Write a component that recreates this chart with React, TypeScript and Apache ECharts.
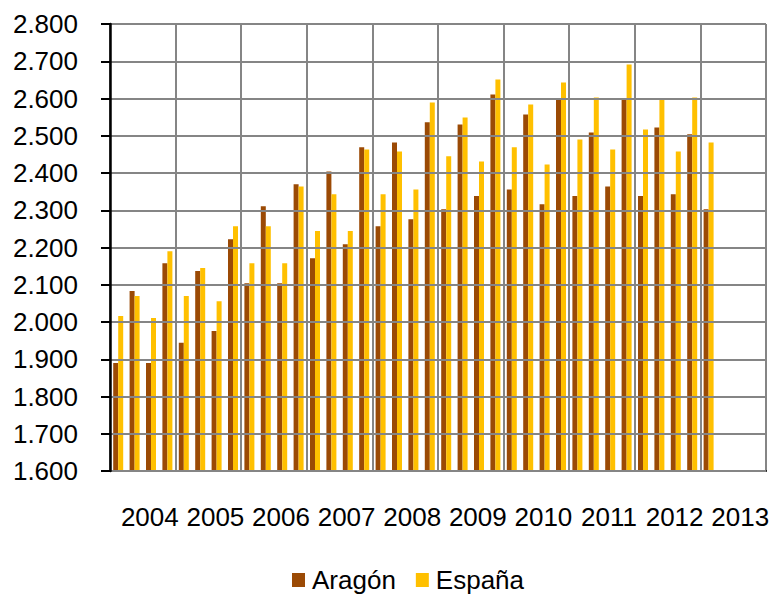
import React, { useEffect, useRef } from "react";
import * as echarts from "echarts";

const years = ["2004", "2005", "2006", "2007", "2008", "2009", "2010", "2011", "2012", "2013"];
const quarters = years.flatMap((y) => ["T1", "T2", "T3", "T4"].map((q) => `${y}-${q}`));

const aragon = [
  1890, 2083, 1890, 2158,
  1944, 2137, 1976, 2222,
  2104, 2311, 2104, 2370,
  2171, 2404, 2209, 2469,
  2257, 2482, 2276, 2536,
  2303, 2530, 2338, 2611,
  2356, 2557, 2316, 2598,
  2338, 2509, 2364, 2598,
  2338, 2522, 2343, 2504,
  2303,
];

const espana = [
  2016, 2070, 2011, 2190,
  2070, 2145, 2056, 2257,
  2158, 2257, 2158, 2364,
  2244, 2343, 2244, 2463,
  2343, 2458, 2356, 2589,
  2445, 2549, 2431, 2651,
  2469, 2584, 2423, 2643,
  2490, 2603, 2463, 2691,
  2517, 2598, 2458, 2603,
  2482,
];

const FONT = "'Liberation Sans', Arial, sans-serif";

export default function App() {
  const ref = useRef<HTMLDivElement>(null);
  useEffect(() => {
    if (!ref.current) return;
    const chart = echarts.init(ref.current, null, { renderer: "svg" });
    chart.setOption({
      animation: false,
      backgroundColor: "#ffffff",
      textStyle: { fontFamily: FONT },
      grid: { left: 110, right: 10, top: 24, bottom: 125, containLabel: false },
      legend: {
        data: ["Aragón", "España"],
        left: 287,
        top: 562,
        itemWidth: 13,
        itemHeight: 14,
        itemGap: 20,
        icon: "rect",
        textStyle: { fontSize: 26, color: "#000", fontFamily: FONT, padding: [0, 0, 0, 2] },
      },
      xAxis: [
        {
          type: "category",
          data: quarters,
          boundaryGap: true,
          axisLabel: { show: false },
          axisTick: { show: false },
          axisLine: { show: false },
          splitLine: { show: false },
        },
        {
          type: "category",
          data: years,
          position: "bottom",
          boundaryGap: true,
          axisLine: { show: true, lineStyle: { color: "#000", width: 2 } },
          axisTick: { show: false },
          axisLabel: {
            fontSize: 26,
            color: "#000",
            fontFamily: FONT,
            margin: 33,
            padding: [0, 0, 0, 14],
            interval: 0,
          },
          splitLine: { show: true, interval: 0, lineStyle: { color: "#858585", width: 2 } },
          z: 3,
        },
      ],
      yAxis: {
        type: "value",
        min: 1600,
        max: 2800,
        interval: 100,
        axisLine: { show: true, lineStyle: { color: "#000", width: 2.5 } },
        axisTick: { show: true, inside: false, length: 9, lineStyle: { color: "#000", width: 2 } },
        axisLabel: {
          fontSize: 26,
          color: "#000",
          fontFamily: FONT,
          margin: 32,
          formatter: (v: number) => (v / 1000).toFixed(3),
        },
        splitLine: { show: true, lineStyle: { color: "#858585", width: 2 } },
        z: 4,
      },
      series: [
        {
          name: "Aragón",
          type: "bar",
          xAxisIndex: 0,
          data: aragon,
          barWidth: 5,
          barGap: "0%",
          itemStyle: { color: "#9B4A05" },
        },
        {
          name: "España",
          type: "bar",
          xAxisIndex: 0,
          data: espana,
          barWidth: 5,
          barGap: "0%",
          itemStyle: { color: "#FFC000" },
        },
      ],
    });
    return () => chart.dispose();
  }, []);
  return (
    <div
      ref={ref}
      style={{ position: "fixed", left: 0, top: 0, width: 776, height: 596, background: "#fff" }}
    />
  );
}
